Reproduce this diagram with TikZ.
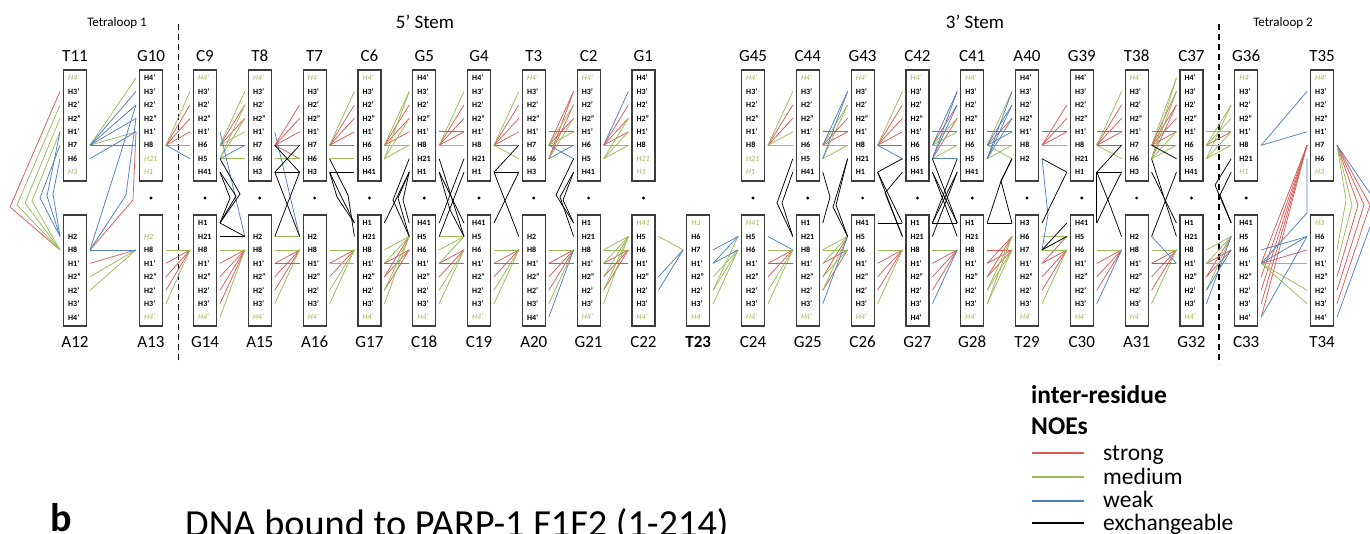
\documentclass[tikz,border=0pt]{standalone}
\usepackage{fontspec}
\setmainfont{Carlito}
\usetikzlibrary{positioning}
\definecolor{noered}{RGB}{214,92,88}
\definecolor{noegreen}{RGB}{155,187,89}
\definecolor{noeblue}{RGB}{79,129,189}
\definecolor{boxgray}{RGB}{60,60,60}
\newcommand{\gi}[1]{{\color{noegreen}\mdseries\itshape #1}}
\tikzset{
    resbox/.style={rectangle, draw=boxgray, fill=white, line width=1.2pt, minimum width=23pt, minimum height=111pt, inner sep=0pt},
    atom/.style={anchor=west, inner sep=0pt, font=\fontsize{8}{9}\selectfont\bfseries},
    resname/.style={anchor=base, inner sep=0pt, font=\fontsize{17}{20}\selectfont},
    region/.style={anchor=base, inner sep=0pt},
    hdot/.style={circle, fill=black, inner sep=0pt, minimum size=3.2pt},
    legtext/.style={anchor=base west, inner sep=0pt, font=\fontsize{23.5}{26}\selectfont},
    str/.style={draw=noered, line width=0.75pt},
    med/.style={draw=noegreen, line width=0.75pt},
    wk/.style={draw=noeblue, line width=0.75pt},
    exc/.style={draw=black, line width=0.75pt},
    loopsep/.style={draw=black, line width=1.3pt, dash pattern=on 6pt off 4pt}
}
% top strand residue: name, x, atom rows (H4' on top)
\newcommand{\topres}[3]{%
    \node[resbox] (#1) at (#2,125.5) {};
    \node[resname] (#1-n) at (#2,61) {#1};
    \foreach \lab [count=\n] in {#3} {
        \pgfmathsetmacro{\yy}{78+13.45*(\n-1)}
        \node[atom] (#1-a\n) at (#2-7,\yy) {\lab};
        \coordinate (#1-l\n) at (#2-15,\yy);
        \coordinate (#1-r\n) at (#2+15,\yy);
    }
}
% bottom strand residue: name, x, label, atom rows (H4' at the bottom)
\newcommand{\botres}[4]{%
    \node[resbox] (#1) at (#2,270.5) {};
    \node[resname] (#1-n) at (#2,347) {#3};
    \foreach \lab [count=\n] in {#4} {
        \pgfmathsetmacro{\yy}{223+13.45*(\n-1)}
        \node[atom] (#1-a\n) at (#2-7,\yy) {\lab};
        \coordinate (#1-l\n) at (#2-15,\yy);
        \coordinate (#1-r\n) at (#2+15,\yy);
    }
}

\begin{document}
\begin{tikzpicture}[x=1pt, y=-1pt]
    \useasboundingbox (0,0) rectangle (1370,533);

    % region titles and loop separators
    \node[region, font=\fontsize{13}{15}\selectfont] (tl1) at (117,26) {Tetraloop 1};
    \node[region, font=\fontsize{19}{22}\selectfont] (stem5) at (425,28) {5' Stem};
    \node[region, font=\fontsize{19}{22}\selectfont] (stem3) at (975,28) {3' Stem};
    \node[region, font=\fontsize{13}{15}\selectfont] (tl2) at (1283,26) {Tetraloop 2};
    \coordinate (sepA1) at (178.5,24);
    \coordinate (sepA2) at (178.5,364);
    \coordinate (sepB1) at (1219,24);
    \coordinate (sepB2) at (1219,364);
    \draw[loopsep] (sepA1) -- (sepA2);
    \draw[loopsep] (sepB1) -- (sepB2);

    % top strand
    \topres{T11}{75}{\gi{H4'},H3',H2',H2'',H1',H7,H6,\gi{H3}}
    \topres{G10}{151}{H4',H3',H2',H2'',H1',H8,\gi{H21},\gi{H1}}
    \topres{C9}{205}{\gi{H4'},H3',H2',H2'',H1',H6,H5,H41}
    \topres{T8}{259.8}{\gi{H4'},H3',H2',H2'',H1',H7,H6,H3}
    \topres{T7}{314.6}{\gi{H4'},H3',H2',H2'',H1',H7,H6,H3}
    \topres{C6}{369.4}{\gi{H4'},H3',H2',H2'',H1',H6,H5,H41}
    \topres{G5}{424.2}{H4',H3',H2',H2'',H1',H8,H21,H1}
    \topres{G4}{479}{H4',H3',H2',H2'',H1',H8,H21,H1}
    \topres{T3}{533.8}{\gi{H4'},H3',H2',H2'',H1',H7,H6,H3}
    \topres{C2}{588.6}{\gi{H4'},H3',H2',H2'',H1',H6,H5,H41}
    \topres{G1}{643.4}{H4',H3',H2',H2'',H1',H8,\gi{H21},\gi{H1}}
    \topres{G45}{753}{\gi{H4'},H3',H2',H2'',H1',H8,\gi{H21},\gi{H1}}
    \topres{C44}{807.8}{\gi{H4'},H3',H2',H2'',H1',H6,H5,H41}
    \topres{G43}{862.6}{\gi{H4'},H3',H2',H2'',H1',H8,H21,H1}
    \topres{C42}{917.4}{\gi{H4'},H3',H2',H2'',H1',H6,H5,H41}
    \topres{C41}{972.2}{\gi{H4'},H3',H2',H2'',H1',H6,H5,H41}
    \topres{A40}{1027}{H4',H3',H2',H2'',H1',H8,H2}
    \topres{G39}{1081.8}{H4',H3',H2',H2'',H1',H8,H21,H1}
    \topres{T38}{1136.6}{\gi{H4'},H3',H2',H2'',H1',H7,H6,H3}
    \topres{C37}{1191.4}{H4',H3',H2',H2'',H1',H6,H5,H41}
    \topres{G36}{1246.2}{\gi{H4'},H3',H2',H2'',H1',H8,H21,\gi{H1}}
    \topres{T35}{1322}{\gi{H4'},H3',H2',H2'',H1',H7,H6,\gi{H3}}

    % bottom strand
    \botres{A12}{75}{A12}{{},H2,H8,H1',H2'',H2',H3',H4'}
    \botres{A13}{151}{A13}{{},\gi{H2},H8,H1',H2'',H2',H3',\gi{H4'}}
    \botres{G14}{205}{G14}{H1,H21,H8,H1',H2'',H2',H3',\gi{H4'}}
    \botres{A15}{259.8}{A15}{{},H2,H8,H1',H2'',H2',H3',\gi{H4'}}
    \botres{A16}{314.6}{A16}{{},H2,H8,H1',H2'',H2',H3',\gi{H4'}}
    \botres{G17}{369.4}{G17}{H1,H21,H8,H1',H2'',H2',H3',\gi{H4'}}
    \botres{C18}{424.2}{C18}{H41,H5,H6,H1',H2'',H2',H3',\gi{H4'}}
    \botres{C19}{479}{C19}{H41,H5,H6,H1',H2'',H2',H3',\gi{H4'}}
    \botres{A20}{533.8}{A20}{{},H2,H8,H1',H2'',H2',H3',H4'}
    \botres{G21}{588.6}{G21}{H1,H21,H8,H1',H2'',H2',H3',\gi{H4'}}
    \botres{C22}{643.4}{C22}{\gi{H41},H5,H6,H1',H2'',H2',H3',\gi{H4'}}
    \botres{T23}{698.2}{\textbf{T23}}{\gi{H3},H6,H7,H1',H2'',H2',H3',\gi{H4'}}
    \botres{C24}{753}{C24}{\gi{H41},H5,H6,H1',H2'',H2',H3',\gi{H4'}}
    \botres{G25}{807.8}{G25}{H1,H21,H8,H1',H2'',H2',H3',\gi{H4'}}
    \botres{C26}{862.6}{C26}{H41,H5,H6,H1',H2'',H2',H3',\gi{H4'}}
    \botres{G27}{917.4}{G27}{H1,H21,H8,H1',H2'',H2',H3',H4'}
    \botres{G28}{972.2}{G28}{H1,H21,H8,H1',H2'',H2',H3',\gi{H4'}}
    \botres{T29}{1027}{T29}{H3,H6,H7,H1',H2'',H2',H3',\gi{H4'}}
    \botres{C30}{1081.8}{C30}{H41,H5,H6,H1',H2'',H2',H3',\gi{H4'}}
    \botres{A31}{1136.6}{A31}{{},H2,H8,H1',H2'',H2',H3',\gi{H4'}}
    \botres{G32}{1191.4}{G32}{H1,H21,H8,H1',H2'',H2',H3',\gi{H4'}}
    \botres{C33}{1246.2}{C33}{H41,H5,H6,H1',H2'',H2',H3',H4'}
    \botres{T34}{1322}{T34}{\gi{H3},H6,H7,H1',H2'',H2',H3',H4'}

    % base pair dots
    \foreach \xx [count=\k] in {151,205,259.8,314.6,369.4,424.2,479,533.8,588.6,643.4,753,807.8,862.6,917.4,972.2,1027,1081.8,1136.6,1191.4,1246.2}
        \node[hdot] (dot\k) at (\xx,198) {};

    % strong NOEs
    \foreach \a/\b in {G10-r6/C9-l3, G10-r6/C9-l4, G10-r6/C9-l5,
        C9-r6/T8-l3, C9-r6/T8-l4, C9-r6/T8-l6,
        T8-r6/T7-l3, T8-r6/T7-l4, T8-r6/T7-l5, T8-r6/T7-l6, T8-r6/T7-l7,
        T7-r6/C6-l3, T7-r6/C6-l4, T7-r6/C6-l5, T7-r6/C6-l6,
        C6-r6/G5-l3, C6-r6/G5-l4, C6-r6/G5-l5,
        G5-r6/G4-l3, G5-r6/G4-l4, G5-r6/G4-l5,
        G4-r6/T3-l3, G4-r6/T3-l4, G4-r6/T3-l5,
        T3-r6/C2-l2, T3-r6/C2-l4, T3-r7/C2-l2, T3-r7/C2-l3,
        C2-r6/G1-l3, C2-r6/G1-l4, C2-r6/G1-l5,
        G45-r6/C44-l3, G45-r6/C44-l4,
        C44-r6/G43-l4, C44-r6/G43-l5,
        G43-r6/C42-l3, G43-r6/C42-l4, G43-r6/C42-l5,
        C42-r6/C41-l3, C42-r7/C41-l4,
        C41-r6/A40-l4,
        A40-r6/G39-l3, A40-r6/G39-l4, A40-r6/G39-l5,
        G39-r6/T38-l3, G39-r6/T38-l4, G39-r6/T38-l5,
        T38-r6/C37-l2, T38-r6/C37-l3, T38-r6/C37-l4, T38-r6/C37-l5, T38-r6/C37-l6, T38-r7/C37-l3,
        C37-r6/G36-l5,
        A12-r4/A13-l3,
        A13-r4/G14-l3, A13-r5/G14-l3, A13-r6/G14-l3,
        G14-r4/A15-l3, G14-r5/A15-l3, G14-r6/A15-l3, G14-r7/A15-l3,
        A15-r4/A16-l3, A15-r5/A16-l3, A15-r6/A16-l3,
        A16-r4/G17-l3, A16-r5/G17-l3,
        G17-r5/C18-l2, G17-r4/C18-l3, G17-r5/C18-l3, G17-r6/C18-l3,
        C18-r4/C19-l3, C18-r5/C19-l3,
        C19-r4/A20-l3, C19-r5/A20-l3,
        A20-r4/G21-l3, A20-r5/G21-l3, A20-r6/G21-l3,
        G21-r4/C22-l3, G21-r5/C22-l3, G21-r6/C22-l3,
        C24-r4/G25-l3, C24-r5/G25-l3,
        G25-r5/C26-l2, G25-r4/C26-l3, G25-r6/C26-l3,
        C26-r4/G27-l3, C26-r5/G27-l3, C26-r6/G27-l3,
        G27-r4/G28-l3, G27-r5/G28-l3, G27-r6/G28-l3,
        G28-r4/T29-l2, G28-r5/T29-l2, G28-r3/T29-l3, G28-r4/T29-l3, G28-r5/T29-l3,
        T29-r4/C30-l2, T29-r4/C30-l3, T29-r5/C30-l3, T29-r6/C30-l3,
        C30-r4/A31-l3, C30-r5/A31-l3, C30-r6/A31-l3,
        A31-r4/G32-l3, A31-r5/G32-l3, A31-r6/G32-l3,
        G32-r5/C33-l2, G32-r4/C33-l3, G32-r5/C33-l3,
        C33-r4/T34-l3,
        C33-r4/T35-l6, C33-r5/T35-l6, C33-r6/T35-l6, C33-r7/T35-l6, C33-r8/T35-l6}
        \draw[str] (\a) -- (\b);
    \foreach \a/\bx/\by/\b in {A12-r3/133/200/G10-l5, A12-l3/10/207/T11-l2,
        T35-r6/1358/205/T34-r5, T35-r6/1364/205/T34-r6, T35-r6/1370/205/T34-r7}
        \draw[str] (\a) -- (\bx,\by) -- (\b);

    % medium NOEs
    \foreach \a/\b in {T11-r6/G10-l1, T11-r6/G10-l5,
        A12-r5/A13-l3, A12-r6/A13-l3,
        G10-r6/C9-l2, G10-r6/C9-l6,
        C9-r6/T8-l2, C9-r6/T8-l5, C9-r7/T8-l3, C9-r7/T8-l4, C9-r7/T8-l7,
        T8-r7/T7-l7,
        T7-r6/C6-l2, T7-r7/C6-l7,
        C6-r6/G5-l2, C6-r6/G5-l6, C6-r7/G5-l2, C6-r7/G5-l4, C6-r7/G5-l6,
        G5-r6/G4-l2, G5-r6/G4-l6,
        G4-r6/T3-l2, G4-r6/T3-l7,
        T3-r6/C2-l3, T3-r6/C2-l5, T3-r7/C2-l4,
        C2-r6/G1-l6, C2-r7/G1-l4, C2-r7/G1-l5, C2-r7/G1-l6,
        G45-r6/C44-l2, G45-r6/C44-l5, G45-r6/C44-l6,
        C44-r6/G43-l3, C44-r6/G43-l6, C44-r7/G43-l3, C44-r7/G43-l6,
        G43-r6/C42-l2,
        C42-r6/C41-l4, C42-r6/C41-l5, C42-r6/C41-l6, C42-r7/C41-l6,
        C41-r6/A40-l2, C41-r6/A40-l6, C41-r6/A40-l7, C41-r7/A40-l6,
        A40-r6/G39-l6,
        G39-r6/T38-l2, G39-r6/T38-l7,
        T38-r6/C37-l1, T38-r7/C37-l1, T38-r7/C37-l2, T38-r7/C37-l5, T38-r7/C37-l6,
        C37-r6/G36-l3, C37-r6/G36-l4, C37-r6/G36-l6, C37-r7/G36-l3, C37-r7/G36-l5, C37-r7/G36-l6, C37-r5/G36-l5,
        A13-r3/G14-l3, A13-r7/G14-l3,
        G14-r3/A15-l3, G14-r8/A15-l3,
        A15-r3/A16-l3, A15-r7/A16-l3, A15-r2/A16-l2,
        A16-r3/G17-l3, A16-r6/G17-l3, A16-r7/G17-l3, A16-r4/G17-l4,
        G17-r3/C18-l2, G17-r4/C18-l2, G17-r6/C18-l2, G17-r7/C18-l2,
        C18-r2/C19-l2, C18-r3/C19-l2, C18-r4/C19-l2, C18-r6/C19-l3, C18-r7/C19-l3,
        C19-r3/A20-l3, C19-r6/A20-l3, C19-r7/A20-l3,
        A20-r3/G21-l3, A20-r7/G21-l3,
        G21-r3/C22-l2, G21-r4/C22-l2, G21-r5/C22-l2, G21-r6/C22-l2, G21-r7/C22-l2, G21-r3/C22-l3,
        C22-r2/T23-l3,
        T23-r6/C24-l2, T23-r5/C24-l3, T23-r6/C24-l3, T23-r7/C24-l3,
        C24-r3/G25-l3, C24-r6/G25-l3, C24-r7/G25-l3,
        G25-r3/C26-l2, G25-r4/C26-l2, G25-r6/C26-l2, G25-r3/C26-l3, G25-r5/C26-l3,
        C26-r3/G27-l3, C26-r7/G27-l3,
        G27-r3/G28-l3,
        G28-r6/T29-l2, G28-r7/T29-l2, G28-r6/T29-l3, G28-r7/T29-l3,
        T29-r2/C30-l2, T29-r3/C30-l2, T29-r3/C30-l3, T29-r7/C30-l3,
        C30-r3/A31-l3,
        A31-r3/G32-l3, A31-r7/G32-l3,
        G32-r3/C33-l2, G32-r4/C33-l2, G32-r6/C33-l2, G32-r4/C33-l4,
        C33-r4/T34-l4, C33-r4/T34-l6, C33-r4/T34-l7}
        \draw[med] (\a) -- (\b);
    \foreach \a/\bx/\by/\b in {A12-l3/17/205/T11-l3, A12-l3/25/203/T11-l4, A12-l3/32/201/T11-l5,
        T35-r6/1352/205/T34-r4, T35-r6/1346/200/T34-r3}
        \draw[med] (\a) -- (\bx,\by) -- (\b);

    % weak NOEs
    \foreach \a/\b in {T11-r6/G10-l2, T11-r6/G10-l3, T11-r6/G10-l4, T11-r6/G10-l6, T11-r7/G10-l5,
        A12-r3/A13-l3, A12-r3/G10-l3,
        G10-r6/C9-l7,
        C9-r7/T8-l6, C9-r5/A15-l2,
        T8-r5/A16-l2,
        A15-r4/A16-l4,
        G5-r5/G4-l5,
        G4-r6/T3-l6,
        T3-r5/C2-l5, T3-r6/C2-l6, T3-r7/C2-l6, T3-r6/C2-l7,
        C2-r6/G1-l2,
        C44-r5/G43-l5, C44-r6/G43-l2, C44-r7/G43-l2,
        G43-r6/C42-l6, G43-r6/C42-l7,
        C42-r5/C41-l5, C42-r6/C41-l2, C42-r7/C41-l2, C42-r7/C41-l3, C42-r7/C41-l7,
        C41-r5/A40-l5, C41-r6/A40-l3, C41-r6/A40-l5, C41-r7/A40-l2, C41-r7/A40-l3, C41-r7/A40-l4,
        A40-r5/G39-l5,
        G39-r5/T38-l5, G39-r6/T38-l6,
        T38-r5/C37-l5,
        G36-r6/T35-l2, G36-r6/T35-l5,
        G17-r4/C18-l4, C18-r4/C19-l4, C19-r4/A20-l4, A20-r4/G21-l4, A20-r8/G21-l3, G21-r4/C22-l4,
        C22-r5/T23-l3, C22-r6/T23-l3,
        T23-r3/C24-l2, T23-r4/C24-l2, T23-r4/C24-l3,
        C24-r2/G25-l3, C24-r4/G25-l4,
        G25-r7/C26-l2,
        G27-r7/G28-l3,
        C30-r7/A31-l3,
        A31-r4/G32-l4, A31-r2/G32-l4,
        G32-r7/C33-l2, G32-r6/C33-l3,
        C33-r3/T34-l2, C33-r4/T34-l2, T34-l2/C33-r8}
        \draw[wk] (\a) -- (\b);
    \foreach \a/\bx/\by/\b in {A12-r3/126/195/G10-l4, A12-l2/40/198/T11-l6, A12-l2/47/196/T11-l5,
        A12-l2/53/194/T11-l7, A40-r7/1048/215/T29-r3, C33-r4/1307/213/T35-l7, T35-r6/1378/205/T34-r8}
        \draw[wk] (\a) -- (\bx,\by) -- (\b);

    % exchangeable NOEs
    \foreach \a/\b in {T8-r6/T7-l8, T8-r8/T7-l6, T8-r8/T7-l8, T8-r8/A16-l2, T7-l8/A15-r2,
        G14-r1/A15-l2, G14-r2/A15-l2,
        T7-r8/C6-l8,
        G17-r1/G5-l8,
        G5-r7/C19-l2, G5-r8/C19-l1, G4-l8/C18-r2, G4-l7/C18-r1,
        T3-l6/G4-r8, G4-r8/T3-l8, G4-r8/A20-l2, T3-l8/C19-r1,
        G43-r8/C42-l7, G43-r8/G27-l1, G43-r8/G27-l2, C26-r1/G27-l1,
        C42-r7/G28-l1, C42-r8/G28-l1, C42-r8/G28-l2, C41-l7/G27-r1, C41-l8/G27-r1, C41-l8/G27-r2, G27-r1/G28-l1,
        G28-r1/T29-l1,
        A40-r7/G39-l8, G39-l8/T29-r1, C30-l1/T29-r3, T29-r3/C30-l2,
        G39-r8/T38-l6, G39-r8/T38-l8, G39-r8/C30-r1,
        T38-r8/G32-l1, T38-r7/G32-l2, A31-r2/C37-l8, T38-r6/C37-l7}
        \draw[exc] (\a) -- (\b);
    \foreach \a/\bx/\by/\b in {C9-r8/230/198/G14-r1, C9-r8/236/196/G14-r1, C9-r7/240/194/G14-r1,
        T7-r8/337/197/G17-l1, T7-r8/343/200/G17-l1, T7-r7/348/195/G17-l2,
        G5-l7/393/200/C18-l2, G5-l8/398/198/C18-l2, G5-l8/403/200/C18-l1,
        G5-r8/450/210/C19-l2,
        C2-l7/556/195/G21-l1, C2-l8/560/197/G21-l2, C2-l8/563/200/G21-l1,
        C44-l7/777/203/G25-l2, C44-l8/782/203/G25-l2, C44-r8/830/197/G25-r1,
        G43-l7/833/207/C26-l2, G43-l7/836/205/C26-l2, C42-l8/885/193/G27-l2,
        G28-r1/1001/181/A40-l7, T29-l1/1001/181/A40-l7,
        G39-r8/1108/200/A31-l2, C30-r1/1110/195/T38-l8,
        G36-l7/1215/185/C33-l1, G36-l8/1220/195/C33-l1}
        \draw[exc] (\a) -- (\bx,\by) -- (\b);

    % legend
    \node[legtext, font=\fontsize{25.5}{28}\selectfont\bfseries] (legtitle) at (1031,403) {inter-residue};
    \node[legtext, font=\fontsize{25.5}{28}\selectfont\bfseries] (legnoes) at (1031,434) {NOEs};
    \node[legtext] (legs) at (1103,460) {strong};
    \node[legtext] (legm) at (1103,484) {medium};
    \node[legtext] (legw) at (1103,507) {weak};
    \node[legtext] (lege) at (1103,530) {exchangeable};
    \coordinate (legs0) at (1032,453);
    \coordinate (legs1) at (1084,453);
    \coordinate (legm0) at (1032,477);
    \coordinate (legm1) at (1084,477);
    \coordinate (legw0) at (1032,501);
    \coordinate (legw1) at (1084,501);
    \coordinate (lege0) at (1032,523);
    \coordinate (lege1) at (1084,523);
    \draw[str, line width=1.5pt] (legs0) -- (legs1);
    \draw[med, line width=1.5pt] (legm0) -- (legm1);
    \draw[wk, line width=1.5pt] (legw0) -- (legw1);
    \draw[exc, line width=1.5pt] (lege0) -- (lege1);

    % next panel heading
    \node[anchor=base west, inner sep=0pt, font=\fontsize{40}{44}\selectfont\bfseries] (panelb) at (50,531) {b};
    \node[anchor=base west, inner sep=0pt, font=\fontsize{38.3}{42}\selectfont] (panelbtitle) at (185,536) {DNA bound to PARP-1 F1F2 (1-214)};
\end{tikzpicture}
\end{document}
